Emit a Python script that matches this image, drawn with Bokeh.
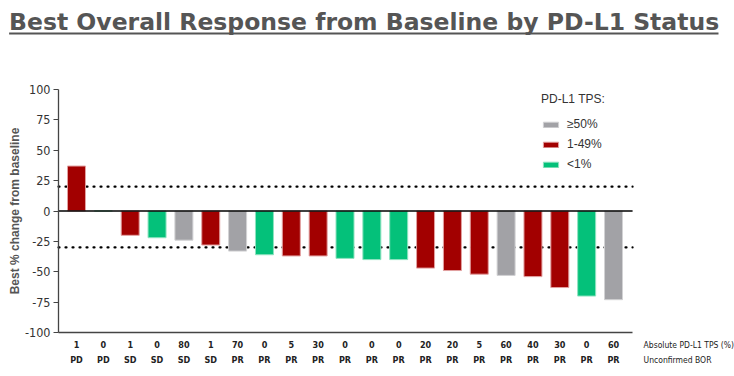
from bokeh.plotting import figure
from bokeh.models import Range1d, Legend, LegendItem, FixedTicker
from bokeh.embed import file_html
from bokeh.resources import INLINE
from bokeh.core.properties import value

title_text = "Best Overall Response from Baseline by PD-L1 Status"
patients = list(range(1, 22))
change = [37, 0, -20, -22, -24, -28, -33, -36, -37, -37, -39, -40, -40,
          -47, -49, -52, -53, -54, -63, -70, -73]
tps = [1, 0, 1, 0, 80, 1, 70, 0, 5, 30, 0, 0, 0, 20, 20, 5, 60, 40, 30, 0, 60]
bor = ["PD", "PD", "SD", "SD", "SD", "SD", "PR", "PR", "PR", "PR", "PR", "PR",
       "PR", "PR", "PR", "PR", "PR", "PR", "PR", "PR", "PR"]
row_titles = ["Absolute PD-L1 TPS (%)", "Unconfirmed BOR"]
groups = ["\u226550%", "1-49%", "<1%"]
group_colors = ["#A2A2A6", "#A20000", "#04C17A"]
group_edges = ["#D2D2D4", "#E2A0A0", "#8FE3C0"]
y_ticks = [-100, -75, -50, -25, 0, 25, 50, 75, 100]
thresholds = [20, -30]

NARROW = "Liberation Sans Narrow, DejaVu Sans Condensed, sans-serif"
X_LO, X_HI = 0.33, 21.71        # extent of the plotted area (axes, reference lines)
ROW_Y = [-110, -123]            # rows of labels under the chart
ROW_X = 22.12                   # start of the row titles
TITLE_X, TITLE_Y, UL_Y, UL_X1 = -1.51, 155.3, 146.1, 24.91

def group_of(t):
    if t >= 50:
        return groups[0]
    if t >= 1:
        return groups[1]
    return groups[2]

p = figure(width=734, height=376, x_range=Range1d(-1.8305, 25.506),
           y_range=Range1d(-136.21, 173.25),
           output_backend="svg", toolbar_location=None, min_border=0)
p.outline_line_color = None
p.grid.visible = False

# title + underline
p.text(x=[TITLE_X], y=[TITLE_Y], text=[title_text], text_font=value("DejaVu Sans"),
       text_font_style="bold", text_font_size="23.5px", text_color="#555555",
       text_baseline="alphabetic", text_align="left")
p.segment(x0=TITLE_X, y0=UL_Y, x1=UL_X1, y1=UL_Y, line_color="#555555", line_width=2)

# reference lines
for t in thresholds:
    p.segment(x0=X_LO, y0=t, x1=X_HI, y1=t, line_color="black", line_width=2.2,
              line_dash="1 6", line_cap="round")

items = []
for g, c, e in zip(groups, group_colors, group_edges):
    xs = [x for x, t in zip(patients, tps) if group_of(t) == g]
    ys = [v for v, t in zip(change, tps) if group_of(t) == g]
    r = p.vbar(x=xs, top=ys, bottom=0, width=0.67, fill_color=c, line_color=e, line_width=1)
    items.append(LegendItem(label=g, renderers=[r]))

p.segment(x0=X_LO, y0=0, x1=X_HI, y1=0, line_color="black", line_width=1.5)

legend = Legend(items=items, location=(541, 202), title="PD-L1 TPS:",
                title_text_font="Liberation Sans", title_text_font_size="12px",
                title_text_font_style="normal", title_text_color="#333333", title_standoff=8,
                label_text_font="Liberation Sans", label_text_font_size="12px",
                label_text_color="#333333", glyph_width=19, glyph_height=7, label_height=20,
                label_standoff=7, spacing=0, padding=6, margin=0,
                background_fill_alpha=0, border_line_color=None)
p.add_layout(legend)

# y axis, fixed at the left edge of the plotted area
p.yaxis.fixed_location = X_LO
p.yaxis.bounds = (y_ticks[0], y_ticks[-1])
p.yaxis.ticker = FixedTicker(ticks=y_ticks)
p.yaxis.major_label_overrides = {t: str(t) for t in y_ticks}
p.yaxis.axis_label = "Best % change from baseline"
p.yaxis.axis_label_text_font = "Liberation Sans"
p.yaxis.axis_label_text_font_style = "bold"
p.yaxis.axis_label_text_font_size = "12px"
p.yaxis.axis_label_text_color = "#555555"
p.yaxis.axis_label_standoff = 0
p.yaxis.major_label_text_font = NARROW
p.yaxis.major_label_text_font_size = "12.5px"
p.yaxis.major_label_text_color = "#333333"
p.yaxis.major_label_standoff = 3
p.yaxis.major_tick_in = 0
p.yaxis.major_tick_out = 5
p.yaxis.minor_tick_line_color = None
p.yaxis.axis_line_color = "#444444"
p.yaxis.major_tick_line_color = "#444444"
p.yaxis.axis_line_width = 1.3

# x axis line at the bottom of the plotted area (no ticks; labels drawn as rows below)
p.xaxis.fixed_location = y_ticks[0]
p.xaxis.bounds = (X_LO, X_HI)
p.xaxis.ticker = FixedTicker(ticks=[])
p.xaxis.major_tick_line_color = None
p.xaxis.minor_tick_line_color = None
p.xaxis.major_tick_out = 0
p.xaxis.axis_line_color = "#444444"
p.xaxis.axis_line_width = 1.3

p.text(x=patients, y=[ROW_Y[0]] * len(patients), text=[str(t) for t in tps],
       text_align="center", text_baseline="middle", text_font=value(NARROW),
       text_font_style="bold", text_font_size="9px", text_color="#222222")
p.text(x=patients, y=[ROW_Y[1]] * len(patients), text=bor,
       text_align="center", text_baseline="middle", text_font=value(NARROW),
       text_font_style="bold", text_font_size="9px", text_color="#222222")
p.text(x=[ROW_X, ROW_X], y=ROW_Y, text=row_titles, text_align="left", text_baseline="middle",
       text_font=value(NARROW), text_font_size="8.5px", text_color="#222222")

open("out.html", "w").write(file_html(p, INLINE))
